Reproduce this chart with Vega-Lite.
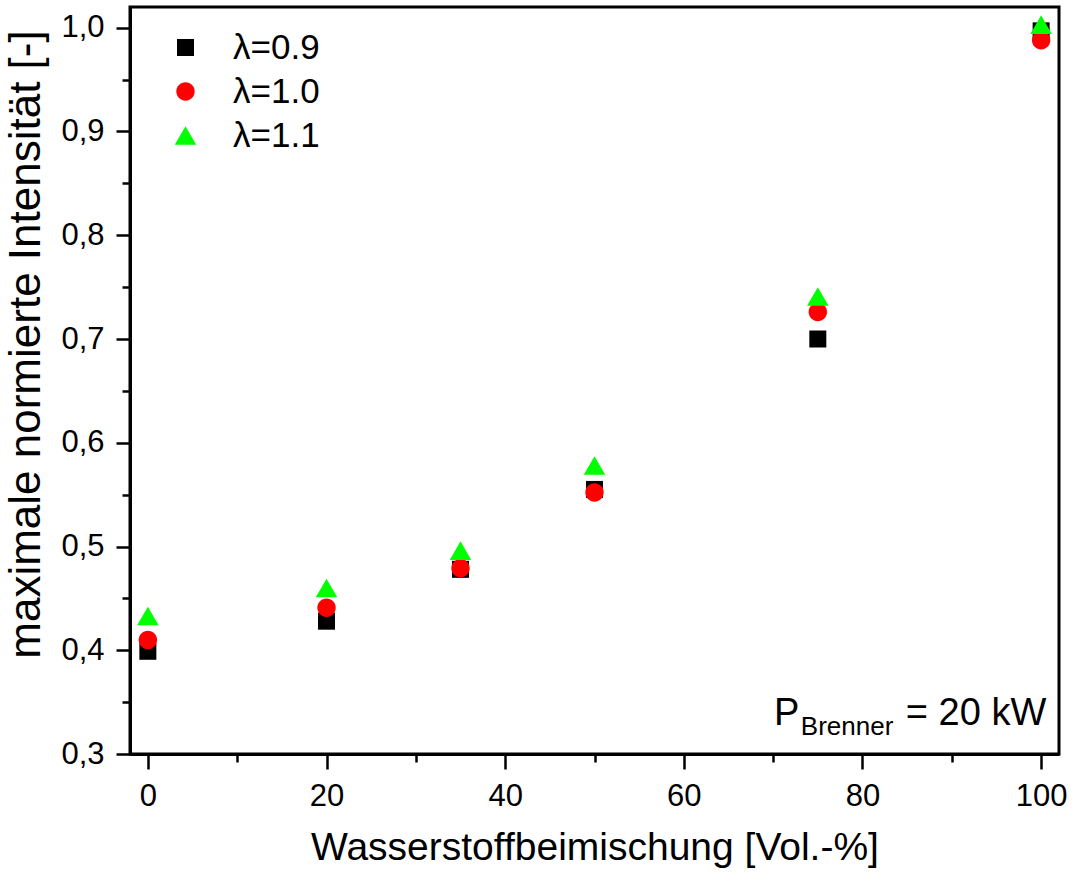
{
  "$schema": "https://vega.github.io/schema/vega-lite/v6.json",
  "width": 929,
  "height": 747,
  "autosize": "none",
  "padding": {"left": 130, "top": 7, "right": 15, "bottom": 118},
  "background": "white",
  "config": {
    "font": "Liberation Sans",
    "locale": {"number": {"decimal": ",", "thousands": ".", "grouping": [3], "currency": ["", " €"]}},
    "view": {"stroke": "black", "strokeWidth": 3},
    "axis": {
      "grid": false,
      "domainColor": "black",
      "domainWidth": 3,
      "tickColor": "black",
      "tickWidth": 2.5,
      "labelColor": "black",
      "titleColor": "black",
      "titleFontWeight": "normal",
      "labelFont": "Liberation Sans",
      "titleFont": "Liberation Sans"
    }
  },
  "datasets": {
    "intensity": [
      {"h2": 0, "lambda": "λ=0.9", "value": 0.399},
      {"h2": 20, "lambda": "λ=0.9", "value": 0.428},
      {"h2": 35, "lambda": "λ=0.9", "value": 0.478},
      {"h2": 50, "lambda": "λ=0.9", "value": 0.555},
      {"h2": 75, "lambda": "λ=0.9", "value": 0.700},
      {"h2": 100, "lambda": "λ=0.9", "value": 0.997},
      {"h2": 0, "lambda": "λ=1.0", "value": 0.410},
      {"h2": 20, "lambda": "λ=1.0", "value": 0.441},
      {"h2": 35, "lambda": "λ=1.0", "value": 0.479},
      {"h2": 50, "lambda": "λ=1.0", "value": 0.552},
      {"h2": 75, "lambda": "λ=1.0", "value": 0.726},
      {"h2": 100, "lambda": "λ=1.0", "value": 0.988},
      {"h2": 0, "lambda": "λ=1.1", "value": 0.433},
      {"h2": 20, "lambda": "λ=1.1", "value": 0.460},
      {"h2": 35, "lambda": "λ=1.1", "value": 0.496},
      {"h2": 50, "lambda": "λ=1.1", "value": 0.578},
      {"h2": 75, "lambda": "λ=1.1", "value": 0.741},
      {"h2": 100, "lambda": "λ=1.1", "value": 1.003}
    ]
  },
  "resolve": {"axis": {"x": "independent", "y": "independent"}},
  "layer": [
    {
      "data": {"name": "intensity"},
      "mark": {"type": "point", "filled": true, "opacity": 1, "strokeWidth": 0, "size": 289},
      "encoding": {
        "x": {
          "field": "h2",
          "type": "quantitative",
          "scale": {"domain": [-2, 102], "nice": false, "zero": false},
          "axis": {
            "orient": "bottom",
            "values": [0, 20, 40, 60, 80, 100],
            "format": "d",
            "tickSize": 15,
            "labelFontSize": 31,
            "labelPadding": 12,
            "title": "Wasserstoffbeimischung [Vol.-%]",
            "titleFontSize": 39,
            "titlePadding": 17
          }
        },
        "y": {
          "field": "value",
          "type": "quantitative",
          "scale": {"domain": [0.3, 1.02], "nice": false, "zero": false},
          "axis": {
            "orient": "left",
            "values": [0.3, 0.4, 0.5, 0.6, 0.7, 0.8, 0.9, 1.0],
            "format": ".1f",
            "tickSize": 14,
            "labelFontSize": 31,
            "labelPadding": 12,
            "title": "maximale normierte Intensität [-]",
            "titleFontSize": 44,
            "titlePadding": 12,
            "titleY": 337
          }
        },
        "shape": {
          "field": "lambda",
          "type": "nominal",
          "scale": {
            "domain": ["λ=0.9", "λ=1.0", "λ=1.1"],
            "range": [
              "square",
              "M1.08,0A1.08,1.08,0,1,1,-1.08,0A1.08,1.08,0,1,1,1.08,0Z",
              "M0,-1.094L1.265,1.094L-1.265,1.094Z"
            ]
          },
          "legend": {
            "title": null,
            "orient": "none",
            "legendX": 38,
            "legendY": 23,
            "symbolSize": 289,
            "symbolStrokeWidth": 0,
            "labelFontSize": 35,
            "labelColor": "black",
            "labelOffset": 30,
            "rowPadding": 8,
            "padding": 0
          }
        },
        "color": {
          "field": "lambda",
          "type": "nominal",
          "scale": {"domain": ["λ=0.9", "λ=1.0", "λ=1.1"], "range": ["#000000", "#ff0000", "#00ff00"]},
          "legend": {"title": null}
        }
      }
    },
    {
      "data": {"values": [{}]},
      "mark": {"type": "text", "fontSize": 38, "align": "left", "baseline": "alphabetic", "color": "black"},
      "encoding": {
        "x": {
          "datum": 70.1,
          "type": "quantitative",
          "axis": {
            "orient": "bottom",
            "values": [10, 30, 50, 70, 90],
            "tickSize": 8,
            "labels": false,
            "domain": false,
            "title": null
          }
        },
        "y": {
          "datum": 0.3283,
          "type": "quantitative",
          "axis": {
            "orient": "left",
            "values": [0.35, 0.45, 0.55, 0.65, 0.75, 0.85, 0.95],
            "tickSize": 8,
            "labels": false,
            "domain": false,
            "title": null
          }
        },
        "text": {"value": "P"}
      }
    },
    {
      "data": {"values": [{}]},
      "mark": {"type": "text", "fontSize": 26, "align": "left", "baseline": "alphabetic", "color": "black"},
      "encoding": {
        "x": {"datum": 73.1, "type": "quantitative", "axis": null},
        "y": {"datum": 0.3186, "type": "quantitative", "axis": null},
        "text": {"value": "Brenner"}
      }
    },
    {
      "data": {"values": [{}]},
      "mark": {"type": "text", "fontSize": 38, "align": "left", "baseline": "alphabetic", "color": "black"},
      "encoding": {
        "x": {"datum": 84.85, "type": "quantitative", "axis": null},
        "y": {"datum": 0.3283, "type": "quantitative", "axis": null},
        "text": {"value": "= 20 kW"}
      }
    }
  ]
}
